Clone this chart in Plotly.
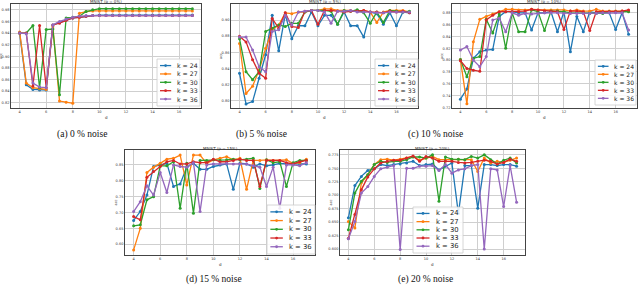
import plotly.graph_objects as go

x_vals = [4 + 0.5 * i for i in range(27)]
k_labels = ["k = 24", "k = 27", "k = 30", "k = 33", "k = 36"]
colors = ["#1f77b4", "#ff7f0e", "#2ca02c", "#d62728", "#9467bd"]

# (a) 0 % noise
a_24 = [0.940,0.851,0.843,0.842,0.842,0.954,0.958,0.963,0.966,0.967,0.969,0.970,0.971,0.971,0.971,0.971,0.971,0.971,0.971,0.971,0.971,0.971,0.971,0.971,0.971,0.971,0.971]
a_27 = [0.942,0.854,0.846,0.844,0.843,0.951,0.823,0.821,0.819,0.974,0.977,0.978,0.978,0.978,0.978,0.978,0.978,0.978,0.978,0.978,0.978,0.978,0.978,0.978,0.978,0.978,0.978]
a_30 = [0.940,0.940,0.953,0.846,0.946,0.947,0.834,0.966,0.967,0.969,0.977,0.980,0.982,0.982,0.982,0.982,0.982,0.982,0.982,0.982,0.982,0.982,0.982,0.982,0.982,0.982,0.982]
a_33 = [0.940,0.940,0.849,0.953,0.846,0.954,0.957,0.962,0.966,0.967,0.969,0.970,0.970,0.970,0.970,0.970,0.970,0.970,0.970,0.970,0.970,0.970,0.970,0.970,0.970,0.970,0.970]
a_36 = [0.940,0.939,0.854,0.847,0.846,0.954,0.960,0.964,0.967,0.969,0.970,0.970,0.970,0.970,0.970,0.970,0.970,0.970,0.970,0.970,0.970,0.970,0.970,0.970,0.970,0.970,0.970]

# (b) 5 % noise
b_24 = [0.834,0.796,0.799,0.828,0.857,0.906,0.862,0.907,0.877,0.893,0.893,0.910,0.893,0.906,0.906,0.895,0.910,0.893,0.893,0.879,0.910,0.908,0.895,0.909,0.893,0.910,0.909]
b_27 = [0.871,0.809,0.818,0.838,0.865,0.888,0.894,0.909,0.908,0.910,0.910,0.912,0.912,0.914,0.914,0.912,0.912,0.912,0.911,0.912,0.910,0.897,0.910,0.912,0.912,0.912,0.910]
b_30 = [0.877,0.836,0.826,0.836,0.886,0.890,0.894,0.892,0.896,0.896,0.910,0.912,0.912,0.912,0.911,0.895,0.912,0.911,0.913,0.909,0.896,0.910,0.897,0.912,0.911,0.910,0.911]
b_33 = [0.880,0.873,0.851,0.834,0.828,0.902,0.890,0.909,0.892,0.891,0.911,0.912,0.895,0.912,0.912,0.911,0.910,0.911,0.911,0.912,0.910,0.910,0.909,0.911,0.910,0.911,0.909]
b_36 = [0.879,0.879,0.863,0.842,0.836,0.886,0.888,0.906,0.894,0.910,0.911,0.912,0.912,0.910,0.896,0.911,0.911,0.912,0.910,0.910,0.910,0.909,0.909,0.910,0.910,0.910,0.910]

# (c) 10 % noise
c_24 = [0.734,0.751,0.803,0.814,0.817,0.818,0.874,0.882,0.882,0.880,0.880,0.851,0.880,0.880,0.882,0.848,0.882,0.814,0.874,0.848,0.882,0.880,0.880,0.880,0.852,0.880,0.844]
c_27 = [0.801,0.726,0.831,0.869,0.874,0.878,0.882,0.886,0.886,0.885,0.885,0.886,0.885,0.885,0.885,0.885,0.885,0.883,0.885,0.883,0.883,0.886,0.883,0.883,0.883,0.883,0.883]
c_30 = [0.801,0.772,0.803,0.806,0.869,0.846,0.878,0.820,0.880,0.848,0.848,0.885,0.882,0.850,0.883,0.883,0.882,0.880,0.880,0.880,0.879,0.879,0.879,0.882,0.882,0.882,0.882]
c_33 = [0.799,0.786,0.783,0.781,0.868,0.876,0.882,0.882,0.882,0.882,0.883,0.886,0.885,0.883,0.882,0.882,0.852,0.883,0.883,0.882,0.850,0.882,0.882,0.882,0.882,0.883,0.885]
c_36 = [0.817,0.823,0.800,0.789,0.806,0.868,0.871,0.848,0.880,0.876,0.879,0.878,0.879,0.880,0.880,0.880,0.879,0.879,0.879,0.879,0.879,0.879,0.880,0.880,0.880,0.880,0.851]

# (d) 15 % noise
d_24 = [0.675,0.703,0.755,0.845,0.850,0.855,0.782,0.790,0.843,0.855,0.836,0.836,0.845,0.850,0.853,0.773,0.855,0.853,0.843,0.853,0.847,0.850,0.855,0.853,0.853,0.853,0.853]
d_27 = [0.582,0.650,0.826,0.843,0.855,0.868,0.871,0.881,0.787,0.881,0.881,0.855,0.866,0.871,0.876,0.866,0.871,0.773,0.864,0.864,0.866,0.864,0.864,0.866,0.855,0.857,0.868]
d_30 = [0.658,0.661,0.740,0.750,0.847,0.847,0.860,0.713,0.855,0.698,0.864,0.864,0.866,0.864,0.866,0.868,0.866,0.868,0.871,0.776,0.866,0.857,0.860,0.782,0.857,0.864,0.864]
d_33 = [0.687,0.677,0.811,0.829,0.845,0.860,0.864,0.853,0.853,0.860,0.857,0.857,0.868,0.860,0.860,0.864,0.868,0.864,0.864,0.782,0.864,0.864,0.864,0.857,0.853,0.860,0.864]
d_36 = [0.703,0.734,0.784,0.755,0.826,0.763,0.850,0.845,0.843,0.857,0.703,0.850,0.853,0.853,0.855,0.853,0.853,0.853,0.847,0.843,0.782,0.843,0.713,0.850,0.850,0.847,0.857]

# (e) 20 % noise
e_24 = [0.658,0.718,0.735,0.746,0.749,0.757,0.755,0.757,0.758,0.760,0.763,0.755,0.757,0.758,0.747,0.754,0.760,0.666,0.755,0.755,0.676,0.757,0.757,0.755,0.757,0.757,0.754]
e_27 = [0.651,0.639,0.723,0.738,0.757,0.766,0.767,0.765,0.767,0.769,0.772,0.765,0.769,0.772,0.766,0.766,0.766,0.767,0.766,0.766,0.744,0.769,0.760,0.763,0.761,0.765,0.769]
e_30 = [0.636,0.704,0.726,0.738,0.757,0.763,0.761,0.763,0.763,0.766,0.771,0.771,0.769,0.775,0.689,0.771,0.767,0.767,0.766,0.772,0.769,0.775,0.766,0.758,0.765,0.769,0.760]
e_33 = [0.620,0.664,0.710,0.734,0.749,0.760,0.763,0.765,0.765,0.769,0.773,0.763,0.772,0.769,0.763,0.763,0.763,0.761,0.760,0.761,0.763,0.765,0.763,0.758,0.761,0.767,0.763]
e_36 = [0.619,0.651,0.704,0.716,0.735,0.749,0.752,0.755,0.599,0.750,0.750,0.754,0.754,0.755,0.746,0.757,0.741,0.747,0.749,0.755,0.757,0.600,0.749,0.747,0.679,0.755,0.687]

x_ticks = [4, 6, 8, 10, 12, 14, 16]
a_ticks = [0.82, 0.84, 0.86, 0.88, 0.90, 0.92, 0.94, 0.96, 0.98]
b_ticks = [0.80, 0.82, 0.84, 0.86, 0.88, 0.90]
c_ticks = [0.72, 0.74, 0.76, 0.78, 0.80, 0.82, 0.84, 0.86, 0.88]
d_ticks = [0.60, 0.65, 0.70, 0.75, 0.80, 0.85]
e_ticks = [0.600, 0.625, 0.650, 0.675, 0.700, 0.725, 0.750, 0.775]

titles = ["MNIST (p = 0%)", "MNIST (p = 5%)", "MNIST (p = 10%)", "MNIST (p = 15%)", "MNIST (p = 20%)"]
captions = ["(a) 0 % noise", "(b) 5 % noise", "(c) 10 % noise", "(d) 15 % noise", "(e) 20 % noise"]

W, H = 640, 288


def px(v):
    return v / W


def py(v):
    return 1 - v / H


# frame boxes in pixels: (left, right, top, bottom); legend box: (left, top, width, height)
panels = [
    dict(series=[a_24, a_27, a_30, a_33, a_36], ticks=a_ticks, fmt="{:.2f}", yr=[0.811, 0.990],
         frame=(11, 201, 4, 108), leg=(157, 59, 43, 47), cap=(82, 134), fs=6.2),
    dict(series=[b_24, b_27, b_30, b_33, b_36], ticks=b_ticks, fmt="{:.2f}", yr=[0.791, 0.920],
         frame=(231, 418, 4, 108), leg=(375, 59, 43, 47), cap=(261, 134), fs=6.2),
    dict(series=[c_24, c_27, c_30, c_33, c_36], ticks=c_ticks, fmt="{:.2f}", yr=[0.719, 0.895],
         frame=(452, 637, 4, 108), leg=(595, 60, 41, 45), cap=(435, 134), fs=6.0),
    dict(series=[d_24, d_27, d_30, d_33, d_36], ticks=d_ticks, fmt="{:.2f}", yr=[0.566, 0.897],
         frame=(125, 315, 150, 255), leg=(267, 205, 48, 49), cap=(214, 279), fs=6.8),
    dict(series=[e_24, e_27, e_30, e_33, e_36], ticks=e_ticks, fmt="{:.3f}", yr=[0.589, 0.784],
         frame=(340, 525, 150, 255), leg=(413, 207, 50, 46), cap=(425, 279), fs=6.8),
]

fig = go.Figure()
layout = dict(width=W, height=H, margin=dict(l=0, r=0, t=0, b=0), template="none",
              paper_bgcolor="white", plot_bgcolor="white", showlegend=False,
              font=dict(family="DejaVu Sans", size=4, color="#333"))
annotations = []
shapes = []
for p_i, p in enumerate(panels):
    n = p_i + 1
    xa = "x" if n == 1 else f"x{n}"
    ya = "y" if n == 1 else f"y{n}"
    fl, fr, ft, fb = p["frame"]
    for s_i, ys in enumerate(p["series"]):
        fig.add_trace(go.Scatter(x=x_vals, y=ys, mode="lines+markers", name=k_labels[s_i],
                                 line=dict(color=colors[s_i], width=1.3),
                                 marker=dict(size=3, color=colors[s_i]),
                                 xaxis=xa, yaxis=ya, showlegend=False))
    axsfx = "" if n == 1 else str(n)
    common = dict(showgrid=True, gridcolor="#cfcfcf", gridwidth=1,
                  showline=True, mirror=True, linecolor="#444", linewidth=0.8,
                  ticks="", tickfont=dict(size=3.5, color="#333"), zeroline=False, automargin=False)
    layout["xaxis" + axsfx] = dict(domain=[px(fl), px(fr)], anchor=ya, range=[3.35, 17.65],
                                   tickvals=x_ticks, ticktext=[str(t) for t in x_ticks], **common)
    layout["yaxis" + axsfx] = dict(domain=[py(fb), py(ft)], anchor=xa, range=p["yr"],
                                   tickvals=p["ticks"], ticktext=[p["fmt"].format(t) for t in p["ticks"]],
                                   **common)
    # axis titles
    annotations.append(dict(text="acc", x=px(fl - 10), y=py((ft + fb) / 2), xref="paper", yref="paper",
                            textangle=-90, xanchor="center", yanchor="middle", showarrow=False,
                            font=dict(size=3.5, color="#333")))
    annotations.append(dict(text="d", x=px((fl + fr) / 2), y=py(fb + 9), xref="paper", yref="paper",
                            xanchor="center", yanchor="middle", showarrow=False,
                            font=dict(size=4, color="#333")))
    # title
    annotations.append(dict(text=titles[p_i], x=px((fl + fr) / 2), y=py(ft - 2), xref="paper", yref="paper",
                            xanchor="center", yanchor="middle", showarrow=False,
                            font=dict(size=4, color="#333")))
    # caption
    annotations.append(dict(text=captions[p_i], x=px(p["cap"][0]), y=py(p["cap"][1]), xref="paper", yref="paper",
                            xanchor="center", yanchor="middle", showarrow=False,
                            font=dict(family="Liberation Serif", size=9.5, color="#111")))
    # legend box
    ll, lt, lw, lh = p["leg"]
    shapes.append(dict(type="rect", xref="paper", yref="paper", x0=px(ll), x1=px(ll + lw),
                       y0=py(lt + lh), y1=py(lt), fillcolor="rgba(255,255,255,0.85)",
                       line=dict(color="#cccccc", width=0.8), layer="above"))
    for s_i in range(5):
        yy = lt + lh * (0.14 + 0.178 * s_i)
        shapes.append(dict(type="line", xref="paper", yref="paper", x0=px(ll + 0.07 * lw), x1=px(ll + 0.33 * lw),
                           y0=py(yy), y1=py(yy), line=dict(color=colors[s_i], width=1.3), layer="above"))
        cx = ll + 0.20 * lw
        shapes.append(dict(type="circle", xref="paper", yref="paper", x0=px(cx - 1.4), x1=px(cx + 1.4),
                           y0=py(yy + 1.4), y1=py(yy - 1.4), fillcolor=colors[s_i],
                           line=dict(color=colors[s_i], width=0), layer="above"))
        annotations.append(dict(text=k_labels[s_i], x=px(ll + 0.41 * lw), y=py(yy), xref="paper", yref="paper",
                                xanchor="left", yanchor="middle", showarrow=False,
                                font=dict(family="DejaVu Sans", size=p["fs"], color="#222")))
layout["annotations"] = annotations
layout["shapes"] = shapes
fig.update_layout(**layout)
fig.write_html("out.html", config={"displayModeBar": False},
               post_script="document.body.style.margin='0px';document.body.style.overflow='hidden';")
